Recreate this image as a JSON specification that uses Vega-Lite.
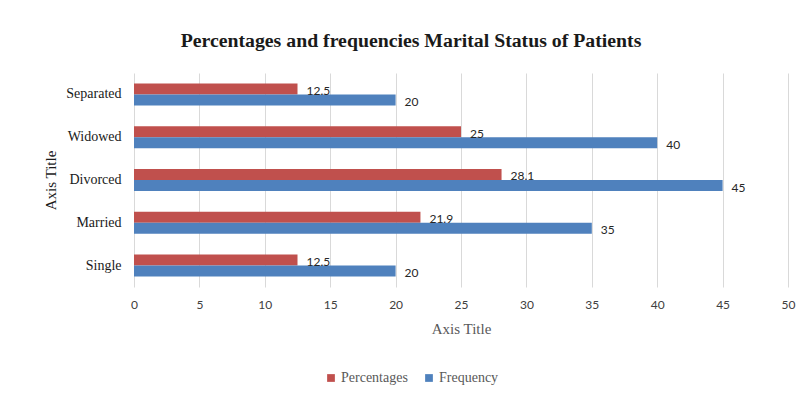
{
  "$schema": "https://vega.github.io/schema/vega-lite/v6.json",
  "autosize": {"type": "none"},
  "width": 654,
  "height": 214,
  "padding": {"left": 134, "top": 73, "right": 16, "bottom": 116},
  "background": "white",
  "title": {
    "text": "Percentages and frequencies Marital Status of Patients",
    "font": "Liberation Serif",
    "fontSize": 19.8,
    "fontWeight": "bold",
    "color": "#1a1a1a",
    "dx": -50,
    "offset": 22
  },
  "data": {
    "values": [
      {"status": "Single", "series": "Percentages", "value": 12.5},
      {"status": "Single", "series": "Frequency", "value": 20},
      {"status": "Married", "series": "Percentages", "value": 21.9},
      {"status": "Married", "series": "Frequency", "value": 35},
      {"status": "Divorced", "series": "Percentages", "value": 28.1},
      {"status": "Divorced", "series": "Frequency", "value": 45},
      {"status": "Widowed", "series": "Percentages", "value": 25},
      {"status": "Widowed", "series": "Frequency", "value": 40},
      {"status": "Separated", "series": "Percentages", "value": 12.5},
      {"status": "Separated", "series": "Frequency", "value": 20}
    ]
  },
  "encoding": {
    "y": {
      "field": "status",
      "type": "nominal",
      "sort": ["Separated", "Widowed", "Divorced", "Married", "Single"],
      "scale": {"paddingInner": 0.485, "paddingOuter": 0.243},
      "axis": {
        "title": "Axis Title",
        "titleFont": "Liberation Serif",
        "titleFontSize": 15,
        "titleFontWeight": "normal",
        "titleColor": "#1a1a1a",
        "titlePadding": 7,
        "labelFont": "Liberation Serif",
        "labelFontSize": 14,
        "labelColor": "#1a1a1a",
        "labelPadding": 13,
        "ticks": false,
        "domain": false,
        "grid": false
      }
    },
    "yOffset": {
      "field": "series",
      "type": "nominal",
      "sort": ["Percentages", "Frequency"],
      "scale": {"paddingInner": 0, "paddingOuter": 0}
    },
    "x": {
      "field": "value",
      "type": "quantitative",
      "scale": {"domain": [0, 50], "nice": false},
      "axis": {
        "values": [0, 5, 10, 15, 20, 25, 30, 35, 40, 45, 50],
        "title": "Axis Title",
        "titleFont": "Liberation Serif",
        "titleFontSize": 15,
        "titleFontWeight": "normal",
        "titleColor": "#595959",
        "titlePadding": 11,
        "labelFont": "Lato",
        "labelFontSize": 12,
        "labelColor": "#404040",
        "labelPadding": 12,
        "labelFlush": false,
        "ticks": false,
        "domain": false,
        "grid": true,
        "gridColor": "#d9d9d9",
        "gridWidth": 1
      }
    }
  },
  "layer": [
    {
      "mark": {"type": "bar"},
      "encoding": {
        "color": {
          "field": "series",
          "type": "nominal",
          "sort": ["Percentages", "Frequency"],
          "scale": {"domain": ["Percentages", "Frequency"], "range": ["#C0504D", "#4F81BD"]},
          "legend": {
            "title": null,
            "orient": "none",
            "direction": "horizontal",
            "legendX": 190,
            "legendY": 298,
            "symbolType": "square",
            "symbolSize": 60,
            "symbolStrokeWidth": 0,
            "labelFont": "Liberation Serif",
            "labelFontSize": 14,
            "labelColor": "#595959",
            "columnPadding": 14,
            "labelOffset": 3
          }
        }
      }
    },
    {
      "mark": {"type": "text", "align": "left", "baseline": "middle", "dx": 9, "dy": 2, "font": "Lato", "fontSize": 12, "color": "#262626"},
      "encoding": {
        "text": {"field": "value", "type": "quantitative"}
      }
    }
  ],
  "config": {
    "view": {"stroke": null}
  }
}
